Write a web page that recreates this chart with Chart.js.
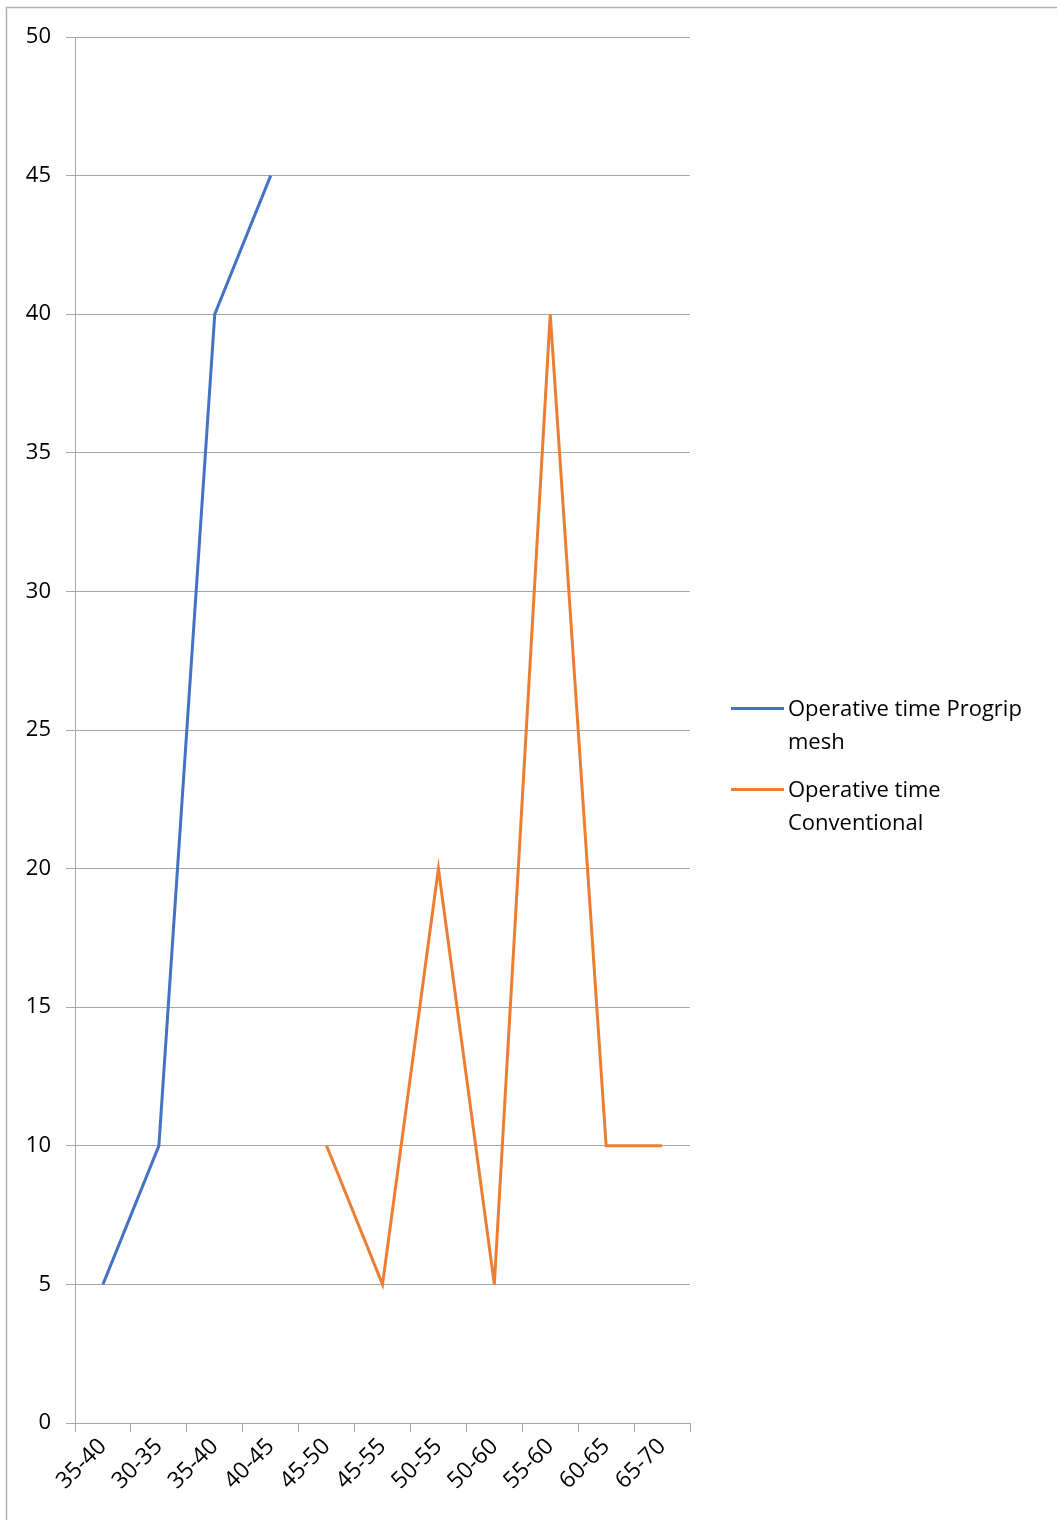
<!DOCTYPE html>
<html>
<head>
<meta charset="utf-8">
<script src="https://cdn.jsdelivr.net/npm/chart.js@4"></script>
<style>
  html, body { margin: 0; padding: 0; background: #fff; overflow: hidden; }
  #wrap { position: relative; width: 1057px; height: 1520px; overflow: hidden; }
  #legend { position: absolute; left: 731px; top: 691px; width: 322px;
            font-family: "Open Sans", sans-serif; font-size: 22px; line-height: 33px; color: #000; }
  .item { position: relative; padding-left: 57px; margin-bottom: 15px; }
  .swatch { position: absolute; left: 0; top: 16px; width: 53px; height: 3px; }
</style>
</head>
<body>
<div id="wrap">
  <canvas id="myChart" width="1057" height="1520"></canvas>
  <div id="legend"></div>
</div>
<script>
const ageGroups = ['35-40', '30-35', '35-40', '40-45', '45-50', '45-55', '50-55', '50-60', '55-60', '60-65', '65-70'];
const progripTime = [5, 10, 40, 45, null, null, null, null, null, null, null];
const conventionalTime = [null, null, null, null, 10, 5, 20, 5, 40, 10, 10];
const seriesNames = ['Operative time Progrip mesh', 'Operative time Conventional'];
const seriesColors = ['#4472C4', '#ED7D31'];
const yTicks = [0, 5, 10, 15, 20, 25, 30, 35, 40, 45, 50];

const gridGrey = '#a6a6a6';
const fontFamily = '"Open Sans", sans-serif';

// outer frame of the chart object
const framePlugin = {
    id: 'frame',
    beforeDraw(chart) {
        const c = chart.ctx;
        c.save();
        c.strokeStyle = '#b0b0b0';
        c.lineWidth = 1.5;
        c.beginPath();
        c.moveTo(6.5, 1520);
        c.lineTo(6.5, 7.5);
        c.lineTo(1057, 7.5);
        c.stroke();
        c.restore();
    }
};

const ctx = document.getElementById('myChart').getContext('2d');
const myChart = new Chart(ctx, {
    type: 'line',
    data: {
        labels: ageGroups,
        datasets: [{
            label: seriesNames[0],
            data: progripTime,
            borderColor: seriesColors[0],
            backgroundColor: seriesColors[0],
            borderWidth: 3,
            pointRadius: 0,
            tension: 0
        }, {
            label: seriesNames[1],
            data: conventionalTime,
            borderColor: seriesColors[1],
            backgroundColor: seriesColors[1],
            borderWidth: 3,
            pointRadius: 0,
            tension: 0
        }]
    },
    options: {
        responsive: false,
        animation: false,
        layout: { padding: { left: 0, right: 367, top: 37, bottom: 0 } },
        plugins: {
            legend: { display: false },
            tooltip: { enabled: false }
        },
        scales: {
            x: {
                offset: true,
                grid: { offset: true, drawOnChartArea: false, drawTicks: true, tickLength: 9, color: gridGrey },
                border: { display: true, color: gridGrey, width: 1 },
                ticks: { color: '#000', font: { family: fontFamily, size: 23 }, minRotation: 45, maxRotation: 45, autoSkip: false, padding: 1 },
                afterFit(scale) { scale.height = 97; }
            },
            y: {
                min: 0,
                max: 50,
                afterBuildTicks(scale) { scale.ticks = yTicks.map(v => ({ value: v })); },
                grid: { color: gridGrey, tickLength: 9 },
                border: { display: true, color: gridGrey, width: 1 },
                ticks: { color: '#000', font: { family: fontFamily, size: 22 }, padding: 15 },
                afterFit(scale) { scale.width = 75; }
            }
        }
    },
    plugins: [framePlugin]
});

// legend with wrapped text, built from the datasets
const legendEl = document.getElementById('legend');
myChart.data.datasets.forEach(ds => {
    const item = document.createElement('div');
    item.className = 'item';
    const sw = document.createElement('span');
    sw.className = 'swatch';
    sw.style.background = ds.borderColor;
    item.appendChild(sw);
    item.appendChild(document.createTextNode(ds.label));
    legendEl.appendChild(item);
});
</script>
</body>
</html>
